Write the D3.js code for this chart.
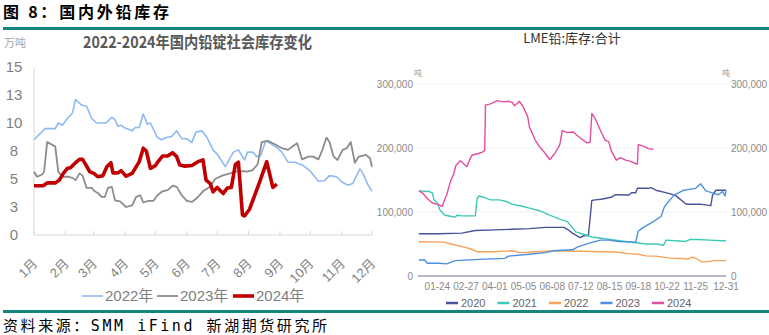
<!DOCTYPE html>
<html><head><meta charset="utf-8">
<script src="https://cdn.jsdelivr.net/npm/d3@7"></script>
<style>
html,body{margin:0;padding:0;background:#fff;}
svg{display:block;}
text{font-family:"Noto Sans CJK SC","Noto Sans",sans-serif;}
.nar{font-family:"Liberation Sans Narrow","Liberation Sans","Noto Sans CJK SC",sans-serif;}
</style></head>
<body>
<svg id="c" width="769" height="335"></svg>
<script>
// ---------- Left chart data (万吨), x = day of year ----------
const monthLabels = ["1月","2月","3月","4月","5月","6月","7月","8月","9月","10月","11月","12月"];
const monthStartDays = [0,31,59,90,120,151,181,212,243,273,304,334];
const leftYTicks = [0,2.5,5,7.5,10,12.5,15];
const leftYTickLabels = ["0","3","5","8","10","13","15"];
const leftSeriesNames = ["2022年","2023年","2024年"];

const days2022 = [0,11,21,24,28,33,38,41,47,52,57,62,71,77,80,83,86,90,97,100,104,108,112,115,122,126,131,136,141,146,151,156,160,166,171,177,182,189,197,202,208,211,216,220,224,229,233,240,245,251,258,266,273,281,287,292,299,304,310,315,322,325,330,334];
const inv2022 = [8.5,9.5,9.5,10.0,9.8,10.4,10.9,12.1,11.6,11.5,10.4,10.0,10.0,10.5,10.3,9.7,9.8,9.55,9.3,9.6,9.6,10.8,9.9,10.0,8.7,8.5,8.7,8.8,9.3,8.6,8.6,8.25,9.2,9.3,8.7,7.6,7.1,6.1,7.4,7.6,6.7,7.4,7.4,7.0,7.1,8.4,8.2,7.8,7.4,6.5,6.5,6.2,5.7,4.8,4.85,5.3,5.2,4.75,4.45,4.6,5.9,5.5,4.5,3.9];

const days2023 = [0,3,8,10,13,19,21,24,28,34,38,41,45,48,52,57,60,63,67,70,73,77,80,85,91,97,101,105,108,113,118,122,127,132,137,141,146,151,156,161,167,174,179,186,192,199,206,211,216,221,225,231,238,245,251,256,260,265,271,276,281,285,289,292,296,300,305,309,313,317,321,328,332,334];
const inv2023 = [5.65,5.2,5.4,5.65,8.3,8.0,7.9,5.65,5.2,5.2,5.1,4.9,5.5,5.3,4.2,4.2,3.9,3.75,3.4,3.4,4.2,4.3,3.1,3.0,2.5,2.65,3.4,3.55,2.9,3.05,3.05,3.55,3.9,4.0,4.4,4.3,3.55,3.05,2.95,3.3,3.9,4.3,5.0,5.3,5.45,5.65,5.7,5.65,5.8,6.3,8.3,8.4,8.1,7.75,7.6,7.95,8.2,6.75,7.0,7.0,6.75,7.6,8.7,8.3,7.0,6.7,7.6,7.75,8.3,6.45,7.0,7.15,6.85,6.1];

const days2024 = [0,9,13,21,25,29,33,36,41,45,48,52,55,60,63,68,72,76,78,83,86,91,97,100,104,108,111,115,120,123,127,132,137,141,144,149,156,162,167,170,174,177,181,187,191,195,199,202,206,208,213,223,230,236,240];
const inv2024 = [4.4,4.4,4.65,4.65,4.9,5.5,5.95,6.0,6.45,6.75,6.75,6.15,5.65,5.45,5.2,5.3,6.1,6.45,5.55,5.55,5.75,5.25,5.5,5.95,6.55,7.75,7.5,5.95,6.2,6.6,7.05,7.05,7.35,7.0,6.25,6.15,6.2,6.55,6.7,4.9,4.6,3.85,4.25,3.7,4.2,4.25,6.3,6.5,1.8,1.7,2.3,4.75,6.55,4.25,4.55];

// ---------- Right chart data (LME lead stocks, thousand tonnes), x = day of year ----------
const rightXTickDays = [23,57,91,125,159,193,227,261,295,329,365];
const rightXTickLabels = ["01-24","02-27","04-01","05-05","06-08","07-12","08-15","09-18","10-22","11-25","12-31"];
const rightYTicks = [0,100000,200000,300000];
const lmeYears = ["2020","2021","2022","2023","2024"];

const lmeDays2020 = [1,25,52,68,91,112,132,151,173,177,183,187,192,196,202,206,210,217,229,234,250,253,258,260,273,276,282,297,305,318,336,347,349,353,365];
const lme2020 = [66,66,67,71,72,73,74,76,76,73,67,64,60,62.5,64,118,119,120,123,127,126.5,130,130,137,137,138,134,129,126,112,112,110,126,134,134];

const lmeDays2021 = [1,13,17,19,23,26,32,40,44,46,52,61,68,70,72,78,86,96,106,112,124,132,144,156,168,177,182,187,194,206,217,234,246,258,270,283,291,294,305,317,322,333,345,360,365];
const lme2021 = [133,132,130,119,114,103,95,93,92,95,94,94,94,121,125,123,119,119,116,112,109,106,102,95,89,85,77,69,66,61,59,56,54,52,50,50,48,56,55,54,57,57,56,55,55];

const lmeDays2022 = [1,30,44,52,61,70,91,112,121,130,141,159,183,216,234,250,261,270,282,299,318,320,323,327,333,336,341,351,365];
const lme2022 = [53.6,53,48.4,46,43,38,38,39.5,36.5,37,38,39,39,38,37.5,35,34,31.5,31,28,27,26,29,29,25,22,22,24,24];

const lmeDays2023 = [1,8,11,25,34,44,72,103,107,132,151,160,183,190,202,216,226,238,258,261,267,279,288,292,303,315,320,329,335,341,351,356,361,364,365];
const lme2023 = [25,25,20,20,19,24,26,27.6,31,34,36.5,39.5,41,46,51,56,56,54,53,70,76,85,93,108,126,134,135,137,144,133,129,127,132,125,134];

const lmeDays2024 = [1,5,12,17,23,29,30,34,39,42,45,50,56,58,61,64,71,77,79,80,86,94,101,108,112,114,118,120,124,130,132,139,144,150,156,162,168,171,177,184,190,194,200,204,206,210,214,217,222,226,229,235,240,246,252,259,260,261,267,273,279];
const lme2024 = [133,130,120,114,112,109,114,127,150,158,173,180,173,171,181,189,191,194,196,267,269,274,272,273,271,266,270,273,266,249,233,212,202,193,182,191,205,227,224,225,218,214,208,209,254,246,234,225,212,210,196,181,185,181,179,175,175,205,203,199,198];

// ---------- drawing ----------
const svg = d3.select("#c");
const teal = "#14857f";

// Header / footer
svg.append("text").attr("x",3).attr("y",18).attr("font-size",16).attr("font-weight",700)
  .attr("fill","#000").text("图 8：国内外铅库存").attr("textLength",166).attr("lengthAdjust","spacing");
svg.append("rect").attr("x",3).attr("y",27).attr("width",766).attr("height",3).attr("fill",teal);
svg.append("rect").attr("x",3).attr("y",310).attr("width",766).attr("height",3).attr("fill",teal);
svg.append("text").attr("x",3).attr("y",331).attr("font-size",15)
  .style("font-family","'DejaVu Sans Mono','Noto Sans CJK SC',monospace")
  .attr("fill","#000").attr("textLength",324).attr("lengthAdjust","spacing")
  .text("资料来源：SMM iFind 新湖期货研究所");

// ---------- Left chart ----------
const L = svg.append("g");
const lx = d3.scaleLinear().domain([0,334]).range([34,372]);
const ly = d3.scaleLinear().domain([0,15]).range([235,67]);
const grey = "#7f7f7f";

L.append("text").attr("x",4).attr("y",47).attr("font-size",11).attr("fill","#a6a6a6").text("万吨");
L.append("text").attr("x",83).attr("y",48).attr("font-size",16).attr("font-weight",700)
  .attr("fill","#595959").attr("textLength",229).attr("lengthAdjust","spacingAndGlyphs")
  .text("2022-2024年国内铅锭社会库存变化");

// axes lines
L.append("line").attr("x1",lx(0)).attr("x2",lx(0)).attr("y1",ly(15)).attr("y2",ly(0)).attr("stroke","#d9d9d9").attr("stroke-width",1);
L.append("line").attr("x1",lx(0)).attr("x2",lx(334)).attr("y1",ly(0)).attr("y2",ly(0)).attr("stroke","#d9d9d9").attr("stroke-width",1);
L.selectAll(".xt").data(monthStartDays).join("line")
  .attr("x1",d=>lx(d)).attr("x2",d=>lx(d)).attr("y1",ly(0)-4).attr("y2",ly(0))
  .attr("stroke","#d9d9d9");
L.selectAll(".yl").data(leftYTicks).join("text").attr("class","nar")
  .attr("x",14).attr("y",d=>ly(d)).attr("dy","0.36em").attr("text-anchor","middle")
  .attr("font-size",15).attr("fill",grey)
  .text((d,i)=>leftYTickLabels[i]);
L.selectAll(".xl").data(monthStartDays).join("text").attr("class","nar")
  .attr("transform",d=>`translate(${lx(d)+1},261) rotate(-45)`)
  .attr("text-anchor","end").attr("dy","0.35em")
  .attr("font-size",13).attr("fill",grey)
  .text((d,i)=>monthLabels[i]);

const leftLine = (days, vals) => d3.line().x((d,i)=>lx(days[i])).y(d=>ly(d))(vals);
const leftSeries = [
  {days:days2022, vals:inv2022, color:"#8dbaf2", w:1.6},
  {days:days2023, vals:inv2023, color:"#8c8c8c", w:1.8},
  {days:days2024, vals:inv2024, color:"#c00000", w:3.6}
];
leftSeries.forEach(s=>{
  L.append("path").attr("d",leftLine(s.days,s.vals)).attr("fill","none")
   .attr("stroke",s.color).attr("stroke-width",s.w).attr("stroke-linejoin","round");
});
// left legend
const legX = [82,157,233];
leftSeries.forEach((s,i)=>{
  L.append("line").attr("x1",legX[i]).attr("x2",legX[i]+21).attr("y1",296).attr("y2",296)
    .attr("stroke",s.color).attr("stroke-width",s.w);
  L.append("text").attr("class","nar").attr("x",legX[i]+23).attr("y",296).attr("dy","0.36em")
    .attr("font-size",15).attr("fill",grey).text(leftSeriesNames[i]);
});

// ---------- Right chart ----------
const R = svg.append("g");
const rx = d3.scaleLinear().domain([0,365]).range([418,726]);
const ry = d3.scaleLinear().domain([0,300000]).range([276,84]);
const rgrey = "#8a8a8a";

R.append("text").attr("x",572).attr("y",43).attr("text-anchor","middle").attr("font-size",13)
  .attr("fill","#333").text("LME铅:库存:合计");
R.append("text").attr("x",418).attr("y",76).attr("text-anchor","middle").attr("font-size",8).attr("fill","#999").text("吨");
R.append("text").attr("x",726).attr("y",76).attr("text-anchor","middle").attr("font-size",8).attr("fill","#999").text("吨");

R.selectAll(".g").data(rightYTicks.filter(d=>d>0)).join("line")
  .attr("x1",rx(0)).attr("x2",rx(365)).attr("y1",d=>ry(d)).attr("y2",d=>ry(d))
  .attr("stroke","#eef0f8").attr("stroke-width",1);
const fmt = d3.format(",");
R.selectAll(".yl").data(rightYTicks).join("text").attr("class","nar")
  .attr("x",413).attr("y",d=>ry(d)).attr("dy","0.35em").attr("text-anchor","end")
  .attr("font-size",10).attr("fill",rgrey).text(d=>fmt(d));
R.selectAll(".yr").data(rightYTicks).join("text").attr("class","nar")
  .attr("x",731).attr("y",d=>ry(d)).attr("dy","0.35em").attr("text-anchor","start")
  .attr("font-size",10).attr("fill",rgrey).text(d=>fmt(d));
R.selectAll(".xl").data(rightXTickDays).join("text").attr("class","nar")
  .attr("x",d=>rx(d)).attr("y",290).attr("text-anchor","middle")
  .attr("font-size",10).attr("fill",rgrey).text((d,i)=>rightXTickLabels[i]);

const lmeColors = ["#4a5299","#3ec9b6","#f6a358","#4a90e0","#e44d9f"];
const lmeSeries = [
  [lmeDays2020,lme2020],[lmeDays2021,lme2021],[lmeDays2022,lme2022],[lmeDays2023,lme2023],[lmeDays2024,lme2024]
];
lmeSeries.forEach((s,k)=>{
  const line = d3.line().x((d,i)=>rx(s[0][i])).y(d=>ry(d*1000));
  R.append("path").attr("d",line(s[1])).attr("fill","none")
    .attr("stroke",lmeColors[k]).attr("stroke-width",1.4).attr("stroke-linejoin","round");
});
R.append("line").attr("x1",rx(0)).attr("x2",rx(365)).attr("y1",ry(0)).attr("y2",ry(0))
  .attr("stroke","#6e7394").attr("stroke-width",1);

// right legend
lmeYears.forEach((y,i)=>{
  const x0 = 446 + i*51.5;
  R.append("line").attr("x1",x0).attr("x2",x0+12).attr("y1",303).attr("y2",303)
    .attr("stroke",lmeColors[i]).attr("stroke-width",2.5);
  R.append("text").attr("class","nar").attr("x",x0+15).attr("y",303).attr("dy","0.36em")
    .attr("font-size",11).attr("fill","#666").text(y);
});
</script>
</body></html>
